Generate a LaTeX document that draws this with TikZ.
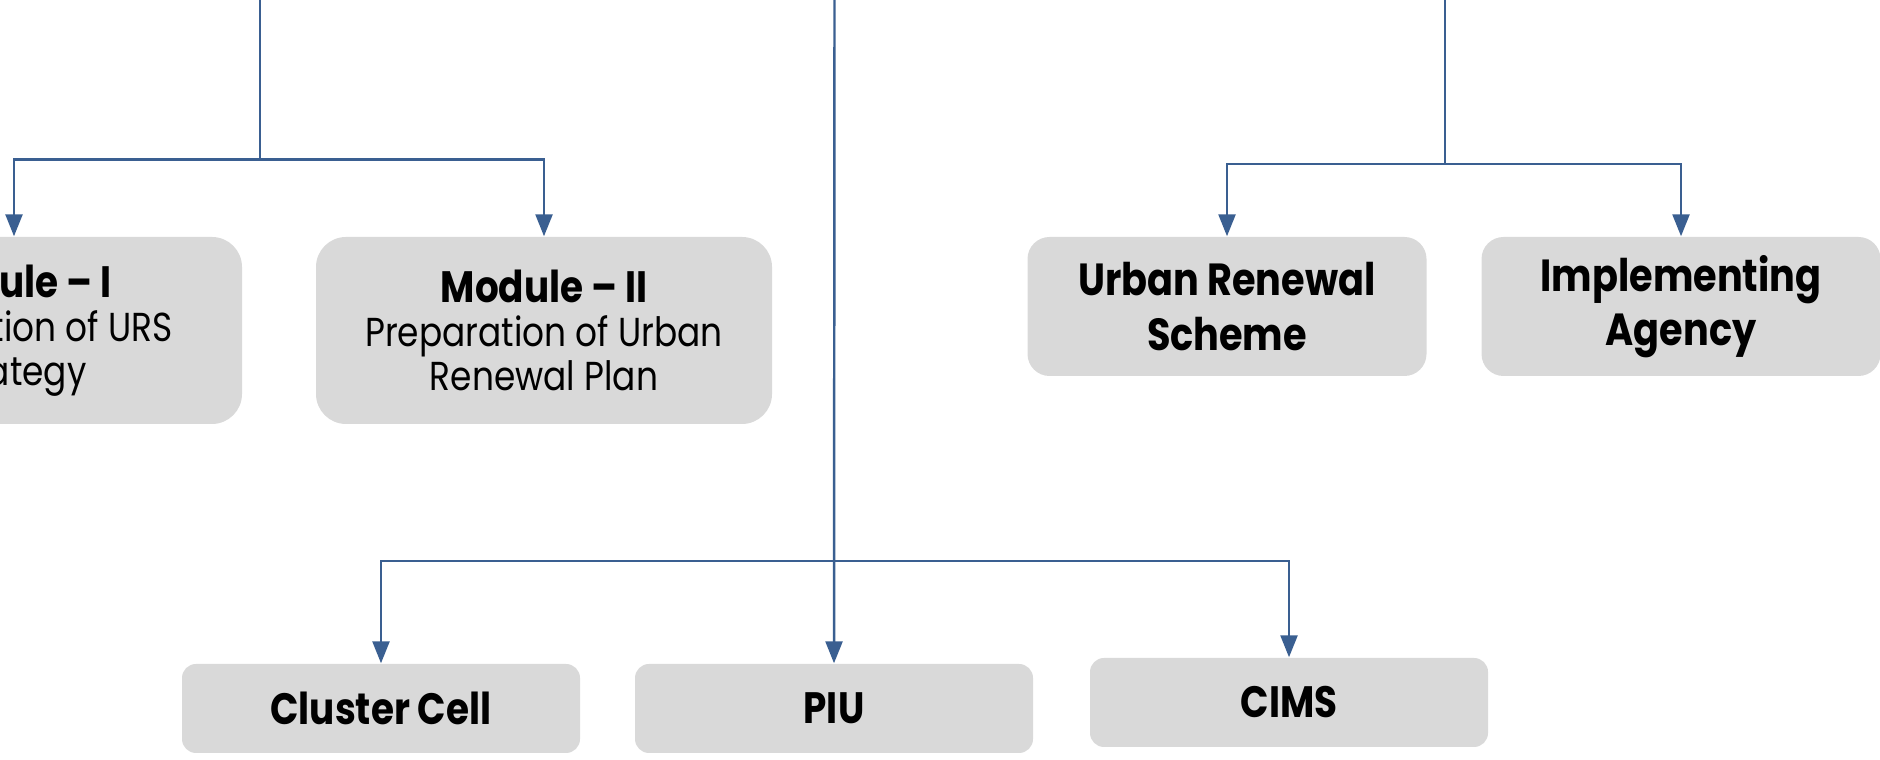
\documentclass[tikz,border=0pt]{standalone}
\usepackage{fontspec}
\setmainfont{Poppins}[FakeStretch=0.85]
\usetikzlibrary{positioning, arrows.meta, calc}
\definecolor{linecolor}{RGB}{58, 95, 145}
\definecolor{boxcolor}{RGB}{217, 217, 217}

\begin{document}
\begin{tikzpicture}[
    box/.style={rectangle, fill=boxcolor, align=center, inner sep=0pt},
    module/.style={box, rounded corners=0.3cm, minimum width=4.56cm, minimum height=1.87cm, font=\fontsize{11.5}{12.5}\selectfont},
    scheme/.style={box, rounded corners=0.22cm, minimum width=3.99cm, minimum height=1.39cm, font=\fontsize{12.8}{15.5}\selectfont\bfseries},
    unit/.style={box, rounded corners=0.14cm, minimum width=3.98cm, minimum height=0.89cm, font=\fontsize{12.5}{14}\selectfont\bfseries},
    arrow/.style={-{Triangle[length=0.22cm, width=0.17cm]}, line width=0.7pt, linecolor},
    trunk/.style={line width=0.7pt, linecolor},
]
\clip (0,0) rectangle (18.8,7.6);

% Modules
\node[module] (mod1) at (0.14, 4.295) {{\fontsize{12.5}{13}\selectfont\bfseries Module – I}\\Preparation of URS\\Strategy};
\node[module] (mod2) at (5.44, 4.295) {{\fontsize{12.5}{13}\selectfont\bfseries Module – II}\\Preparation of Urban\\Renewal Plan};

% Scheme and agency
\node[scheme] (urs) at (12.27, 4.535) {Urban Renewal\\Scheme};
\node[scheme] (agency) at (16.81, 4.535) {Implementing\\Agency};

% Units
\node[unit] (cluster) at (3.81, 0.515) {Cluster Cell};
\node[unit] (piu) at (8.34, 0.515) {PIU};
\node[unit] (cims) at (12.89, 0.575) {CIMS};

% Free ends at the top
\coordinate (topL) at (2.60, 7.6);
\coordinate (topM) at (8.345, 7.6);
\coordinate (topR) at (14.45, 7.6);
\coordinate (barL) at (2.60, 6.005);
\coordinate (barM) at (8.345, 1.99);
\coordinate (barR) at (14.45, 5.96);

% Arrows
\draw[trunk] (topL) -- (barL);
\draw[arrow] (barL) -| (mod1.north);
\draw[arrow] (barL) -| (mod2.north);

\draw[arrow] (topM) -- (piu.north);
\draw[arrow] (barM) -| (cluster.north);
\draw[arrow] (barM) -| (cims.north);

\draw[trunk] (topR) -- (barR);
\draw[arrow] (barR) -| (urs.north);
\draw[arrow] (barR) -| (agency.north);

\end{tikzpicture}
\end{document}
